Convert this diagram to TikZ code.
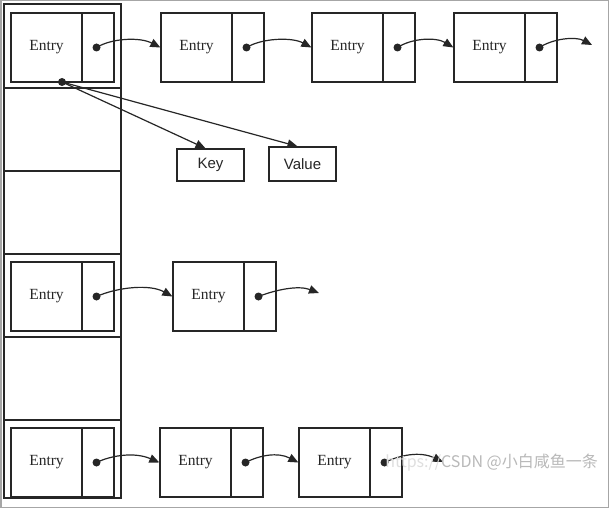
\documentclass[tikz,border=0pt]{standalone}
\usepackage{fontspec}
\setmainfont{Liberation Serif}
\newfontfamily\kvfont{Liberation Sans}
\newfontfamily\cjk{Noto Sans CJK SC}
\usetikzlibrary{arrows.meta,calc}
\definecolor{ink}{HTML}{262626}
\tikzset{
  ebox/.style={draw=ink,line width=1.3pt,minimum width=103pt,minimum height=69pt,inner sep=0pt},
  etext/.style={font=\fontsize{15.5}{15.5}\selectfont,text=ink,inner sep=0pt},
  kvbox/.style={draw=ink,line width=1.3pt,minimum width=67pt,inner sep=0pt,font=\kvfont\fontsize{15}{15}\selectfont,text=ink},
  ptr/.style={draw=ink,line width=1.2pt,-{Triangle[length=10pt,width=8.5pt]}},
  dotstyle/.style={circle,fill=ink,inner sep=0pt,minimum size=8pt},
}
\newcommand{\entrybox}[3]{%
  \node[ebox] (#1) at (#2+51.5,#3+34.5) {};
  \node[etext] (#1t) at (#2+35.5,#3+34.5) {Entry};
  \draw[ink,line width=1.3pt] (#2+71,#3) -- (#2+71,#3+69);
  \node[dotstyle] (#1p) at (#2+85.5,#3+34.5) {};
}
\begin{document}
\begin{tikzpicture}[x=1pt,y=-1pt]
\useasboundingbox (0,0) rectangle (609,508);
\fill[white] (0,0) rectangle (609,508);
\draw[gray!70,line width=1.5pt] (0.75,0.75) rectangle (608.25,507.25);
% array column
\node[draw=ink,line width=1.3pt,minimum width=117pt,minimum height=494pt,inner sep=0pt] (arr) at (62.5,251) {};
\foreach \yy in {88,171,254,337,420}
  \draw[ink,line width=1.3pt] (4,\yy) -- (121,\yy);
% row 1
\entrybox{a1}{11}{13}
\entrybox{a2}{161}{13}
\entrybox{a3}{312}{13}
\entrybox{a4}{454}{13}
\coordinate (a5) at (592,45);
\draw[ptr] (a1p.center) .. controls (112,38) and (140,37) .. (a2.west);
\draw[ptr] (a2p.center) .. controls (262,38) and (292,37) .. (a3.west);
\draw[ptr] (a3p.center) .. controls (412,38) and (436,37) .. (a4.west);
\draw[ptr] (a4p.center) .. controls (552,39) and (575,36) .. (a5);
% key / value
\node[kvbox,minimum height=32pt] (key) at (210.5,165) {Key};
\node[kvbox,minimum height=34pt] (val) at (302.5,164) {Value};
\node[dotstyle] (kv) at (62,82) {};
\draw[ptr] (kv.center) -- ($(key.north)+(-5,0)$);
\draw[ptr] (kv.center) -- ($(val.north)+(-5,0)$);
% row 4
\entrybox{b1}{11}{262}
\entrybox{b2}{173}{262}
\coordinate (b3) at (319,293);
\draw[ptr] (b1p.center) .. controls (118,287) and (150,284) .. (b2.west);
\draw[ptr] (b2p.center) .. controls (275,290) and (298,285) .. (b3);
% row 6
\entrybox{c1}{11}{428}
\entrybox{c2}{160}{428}
\entrybox{c3}{299}{428}
\coordinate (c4) at (443,462);
\draw[ptr] (c1p.center) .. controls (112,455) and (135,452) .. (c2.west);
\draw[ptr] (c2p.center) .. controls (260,455) and (278,452) .. (c3.west);
\draw[ptr] (c3p.center) .. controls (400,455) and (420,451) .. (c4);
% watermark
\node[anchor=east,text=gray!55,inner sep=0pt,font=\cjk\fontsize{16}{16}\selectfont] (wm) at (598,463) {{\color{gray!25}https://}CSDN @小白咸鱼一条};
\end{tikzpicture}
\end{document}
